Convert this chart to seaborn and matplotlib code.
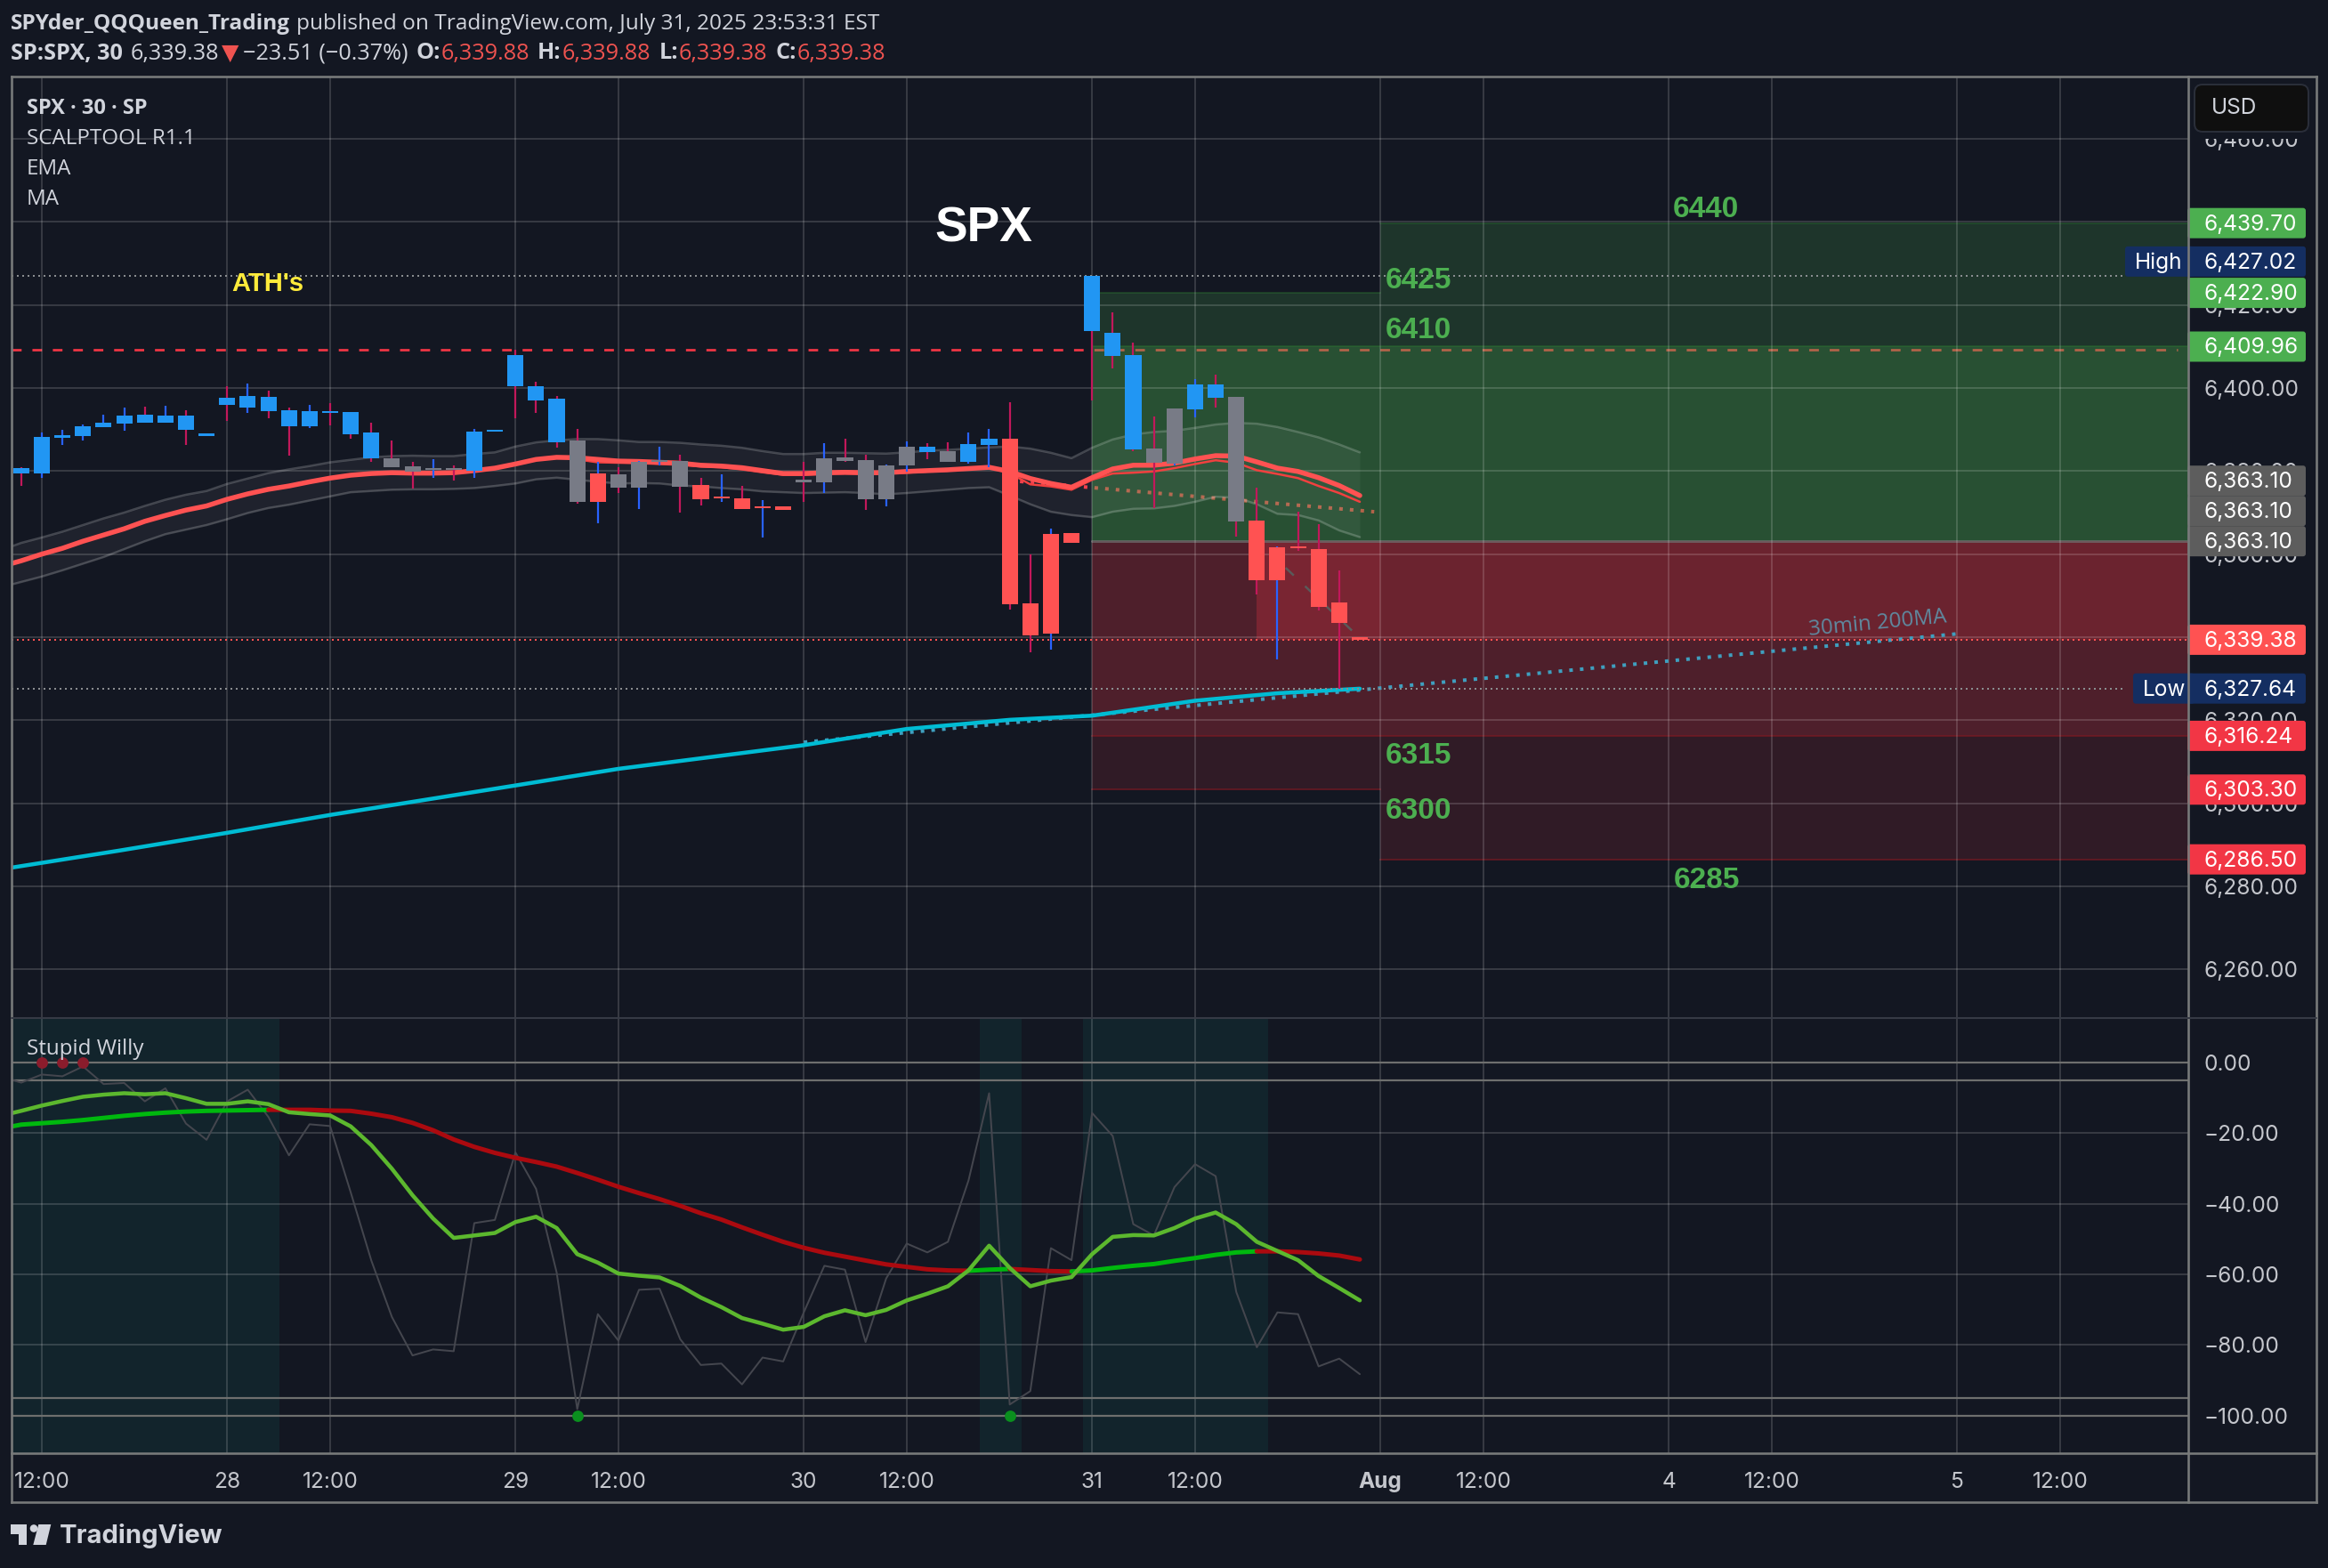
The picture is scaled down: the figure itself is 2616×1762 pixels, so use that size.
import numpy as np
import matplotlib
matplotlib.use('Agg')
import matplotlib.pyplot as plt
from matplotlib.patches import Rectangle, FancyBboxPatch, Polygon, Circle
from matplotlib.ticker import FuncFormatter, StrMethodFormatter
import seaborn as sns

W, H = 2616, 1762
BG = '#131722'

# candles, one per 30 min bar, bar -1 .. 64
opens = [6380.7, 6379.4, 6388.0, 6388.4, 6390.6, 6391.4, 6393.6, 6391.6, 6393.4, 6388.4, 6397.6, 6395.3, 6397.9, 6394.6,
         6390.8, 6394.4, 6394.2, 6389.3, 6383.1, 6381.1, 6380.3, 6380.7, 6380.1, 6389.5, 6407.9, 6400.4, 6397.4, 6387.4,
         6372.6, 6379.2, 6376.0, 6382.2, 6382.4, 6376.6, 6373.4, 6373.4, 6371.1, 6371.5, 6377.9, 6377.3, 6383.3, 6382.6,
         6373.2, 6381.4, 6385.9, 6384.8, 6382.2, 6386.3, 6387.8, 6348.1, 6340.9, 6365.1, 6427.0, 6413.3, 6407.9, 6385.4,
         6381.8, 6394.9, 6400.9, 6397.9, 6368.1, 6353.7, 6361.9, 6361.2, 6348.4, 6339.9]
highs = [6380.9, 6389.3, 6389.9, 6391.2, 6393.6, 6395.3, 6395.5, 6395.7, 6394.6, 6389.1, 6400.4, 6401.1, 6399.4, 6395.3,
         6395.9, 6396.4, 6394.2, 6391.6, 6387.4, 6382.2, 6382.9, 6381.4, 6390.1, 6389.9, 6409.2, 6401.5, 6398.1, 6390.1,
         6382.2, 6380.9, 6382.4, 6385.9, 6383.9, 6378.4, 6379.2, 6376.4, 6373.0, 6371.5, 6382.2, 6386.7, 6387.8, 6383.9,
         6381.6, 6387.1, 6386.7, 6386.9, 6389.3, 6390.1, 6396.6, 6359.9, 6366.1, 6365.1, 6427.0, 6418.2, 6410.9, 6393.1,
         6395.1, 6402.1, 6403.2, 6397.9, 6376.0, 6361.9, 6370.2, 6367.2, 6356.1, 6339.9]
lows = [6376.4, 6378.4, 6386.3, 6387.4, 6390.6, 6389.7, 6391.6, 6391.6, 6386.3, 6388.4, 6392.1, 6394.0, 6392.7, 6383.7,
        6390.4, 6391.0, 6387.8, 6382.2, 6380.9, 6375.8, 6378.4, 6377.7, 6378.4, 6389.5, 6392.7, 6394.0, 6385.6, 6372.1,
        6367.4, 6374.7, 6370.9, 6381.4, 6370.0, 6371.7, 6372.6, 6370.9, 6364.0, 6370.6, 6372.6, 6374.7, 6382.2, 6370.6,
        6371.5, 6379.9, 6382.9, 6382.2, 6381.8, 6380.9, 6346.6, 6336.4, 6337.0, 6362.7, 6397.0, 6404.7, 6384.8, 6371.1,
        6381.4, 6392.9, 6395.3, 6364.2, 6350.3, 6334.6, 6360.8, 6346.4, 6327.6, 6339.4]
closes = [6379.4, 6388.2, 6388.6, 6390.8, 6391.6, 6393.4, 6391.6, 6393.4, 6389.9, 6389.1, 6395.9, 6398.1, 6394.4, 6390.8,
          6394.4, 6394.0, 6388.9, 6383.1, 6380.9, 6379.9, 6380.7, 6380.3, 6389.5, 6389.9, 6400.4, 6397.0, 6386.9, 6372.6,
          6379.4, 6376.0, 6382.2, 6382.6, 6376.2, 6373.2, 6373.9, 6370.9, 6371.5, 6370.6, 6377.3, 6383.1, 6382.4, 6373.2,
          6381.4, 6385.9, 6384.6, 6382.2, 6386.5, 6387.8, 6347.9, 6340.4, 6364.9, 6362.7, 6413.7, 6407.7, 6385.2, 6382.0,
          6395.1, 6400.9, 6397.6, 6367.9, 6353.7, 6361.6, 6361.4, 6347.3, 6343.4, 6339.4]
body_kind = 'bbbbbbbbbbbbbbbbbb' + 'gggg' + 'bbbbb' + 'g' + 'r' + 'gggg' + 'rrrrr' + 'gggggg' + 'b' + 'g' + 'bb' + 'rrrr' + 'bbb' + 'gg' + 'bb' + 'g' + 'rrrrrr'

# overlays, bar -2 .. 64
ema = [6357.0, 6358.4, 6360.0, 6361.4, 6363.1, 6364.6, 6366.1, 6367.9, 6369.3, 6370.6, 6371.6, 6373.2, 6374.5, 6375.6,
       6376.4, 6377.4, 6378.3, 6379.0, 6379.4, 6379.6, 6379.5, 6379.5, 6379.6, 6380.1, 6380.7, 6381.7, 6382.8, 6383.3,
       6383.2, 6382.8, 6382.4, 6382.3, 6382.1, 6381.9, 6381.4, 6381.2, 6380.8, 6380.1, 6379.4, 6379.4, 6379.6, 6379.7,
       6379.6, 6379.6, 6379.9, 6380.1, 6380.3, 6380.6, 6380.9, 6379.9, 6378.2, 6377.0, 6376.1, 6378.4, 6380.5, 6381.4,
       6381.4, 6381.9, 6382.9, 6383.7, 6383.6, 6382.2, 6380.7, 6379.9, 6378.4, 6376.5, 6374.1]
band_up = [6360.9, 6362.7, 6364.0, 6365.4, 6367.0, 6368.6, 6370.0, 6371.6, 6373.1, 6374.3, 6375.2, 6376.9, 6378.2, 6379.5,
           6380.4, 6381.2, 6382.1, 6382.7, 6383.3, 6383.6, 6383.7, 6383.6, 6383.6, 6384.1, 6384.5, 6385.9, 6386.9, 6387.4,
           6387.7, 6387.7, 6387.4, 6387.0, 6387.0, 6386.8, 6386.4, 6386.1, 6385.6, 6384.8, 6384.1, 6384.1, 6384.4, 6384.4,
           6384.3, 6384.2, 6384.5, 6384.9, 6385.1, 6385.4, 6385.7, 6385.9, 6385.4, 6384.4, 6383.1, 6385.6, 6387.6, 6388.8,
           6389.4, 6389.7, 6390.4, 6391.2, 6391.6, 6391.4, 6390.6, 6389.4, 6388.1, 6386.4, 6384.5]
band_dn = [6352.0, 6353.3, 6354.6, 6356.1, 6357.7, 6359.3, 6361.2, 6363.1, 6364.8, 6365.9, 6367.0, 6368.4, 6369.9, 6371.1,
           6371.9, 6372.9, 6373.9, 6374.9, 6375.2, 6375.5, 6375.6, 6375.6, 6375.7, 6375.9, 6376.4, 6377.0, 6378.0, 6378.4,
           6377.9, 6377.4, 6377.0, 6377.1, 6377.0, 6376.5, 6376.3, 6375.9, 6375.6, 6375.1, 6374.9, 6374.7, 6374.8, 6374.9,
           6374.7, 6374.4, 6374.7, 6375.1, 6375.5, 6375.9, 6376.1, 6374.1, 6372.0, 6370.2, 6369.4, 6368.9, 6370.2, 6370.9,
           6371.0, 6371.6, 6372.6, 6373.8, 6373.6, 6372.0, 6369.7, 6369.4, 6368.1, 6365.7, 6364.1]
# thin MA only separates from the EMA from bar 26 on
ma_fast = [6382.8, 6382.1, 6382.0, 6381.9, 6381.7, 6381.5, 6381.1, 6380.9, 6380.4, 6379.7, 6379.1, 6379.1, 6379.3, 6379.4,
           6379.3, 6379.4, 6379.6, 6379.9, 6380.1, 6380.5, 6380.9, 6379.5, 6376.8, 6376.3, 6375.5, 6377.9, 6379.4, 6379.6,
           6379.9, 6380.7, 6381.7, 6382.6, 6382.0, 6380.2, 6379.3, 6378.3, 6376.4, 6374.7, 6372.6]
ma200_bars = [-2, 3.74, 9, 14, 23, 28, 37, 42, 47, 51, 56, 60, 64]
ma200 = [6284.1, 6288.6, 6292.9, 6297.2, 6304.3, 6308.3, 6314.0, 6317.9, 6320.1, 6321.1, 6324.7, 6326.5, 6327.6]
ma200_dot_bars = [37, 93]
ma200_dot = [6314.7, 6340.8]
trend_dot_bars = [47.5, 64.7]
trend_dot = [6377.5, 6370.2]
path_bars = [60.4, 64]
path_vals = [6356.7, 6339.8]
ath_level = 6409.3

# position boxes: bar from, bar to, price top, price bottom, alpha
green_boxes = [(65, 104.3, 6439.70, 6409.96, 0.20), (51, 65, 6422.90, 6409.96, 0.20), (51, 104.3, 6409.96, 6363.10, 0.38)]
red_boxes = [(65, 104.3, 6363.10, 6339.38, 0.395), (51, 59, 6363.10, 6339.38, 0.265), (59, 65, 6363.10, 6339.38, 0.46),
             (51, 104.3, 6339.38, 6316.24, 0.265), (51, 104.3, 6316.24, 6303.30, 0.135), (65, 104.3, 6303.30, 6286.50, 0.135)]

# stupid willy, bar -2 .. 64
willy = [-4.0, -5.7, -3.4, -3.9, -1.1, -6.1, -5.8, -11.0, -7.3, -17.3, -21.9, -11.0, -7.7, -15.4, -26.3, -17.5, -18.0,
         -36.8, -56.1, -72.1, -83.0, -81.3, -81.8, -45.5, -44.6, -25.5, -35.8, -59.5, -98.2, -71.3, -78.8, -64.4, -64.1,
         -78.4, -85.7, -85.3, -91.2, -83.6, -84.7, -70.8, -57.6, -58.7, -79.2, -61.2, -51.3, -53.8, -50.8, -33.4, -8.7,
         -96.9, -93.1, -52.6, -56.0, -14.3, -20.8, -45.8, -49.0, -35.3, -28.8, -32.2, -65.0, -80.7, -70.8, -71.3, -86.1,
         -83.9, -88.3]
willy_fast = [-15.1, -13.7, -12.2, -10.9, -9.7, -9.1, -8.7, -9.0, -8.7, -10.1, -11.7, -11.7, -11.0, -11.8, -14.1, -14.6,
              -15.0, -18.1, -23.4, -30.1, -37.6, -44.2, -49.7, -49.0, -48.3, -45.2, -43.7, -46.9, -54.3, -56.7, -59.8,
              -60.4, -60.9, -63.3, -66.6, -69.3, -72.4, -74.0, -75.7, -74.9, -71.9, -70.2, -71.6, -70.1, -67.4, -65.5,
              -63.4, -58.9, -51.9, -58.2, -63.4, -61.8, -60.8, -54.3, -49.4, -48.9, -49.0, -46.9, -44.2, -42.5, -45.8,
              -50.8, -53.4, -56.0, -60.5, -63.9, -67.4]
willy_slow = [-18.7, -17.6, -17.2, -16.8, -16.3, -15.7, -15.1, -14.6, -14.2, -13.9, -13.7, -13.6, -13.5, -13.4, -13.4,
              -13.4, -13.6, -13.7, -14.5, -15.5, -17.1, -19.2, -21.8, -23.9, -25.6, -27.0, -28.2, -29.5, -31.3, -33.2,
              -35.2, -37.0, -38.7, -40.6, -42.7, -44.5, -46.7, -48.8, -50.8, -52.5, -53.9, -55.0, -56.1, -57.2, -57.9,
              -58.6, -58.9, -59.0, -58.7, -58.5, -58.8, -59.1, -59.2, -58.9, -58.2, -57.6, -57.1, -56.2, -55.4, -54.5,
              -53.8, -53.5, -53.5, -53.7, -54.1, -54.7, -55.8]
slow_segments = [(-2, 11, '#00b80e'), (11, 45, '#ab0a0f'), (45, 47, '#00b80e'), (47, 50, '#ab0a0f'), (50, 59, '#00b80e'), (59, 64, '#ab0a0f')]
shade_spans = [(-1.6, 11.53), (45.55, 47.58), (50.57, 59.55)]
sell_dots = [0, 1, 2]
buy_dots = [26, 47]

# axis ticks
time_ticks = [0, 9, 14, 23, 28, 37, 42, 51, 56, 65, 70, 79, 84, 93, 98]
time_labels = ['12:00', '28', '12:00', '29', '12:00', '30', '12:00', '31', '12:00', 'Aug', '12:00', '4', '12:00', '5', '12:00']
price_ticks = [6260, 6280, 6300, 6320, 6340, 6360, 6380, 6400, 6420, 6440, 6460]
willy_ticks = [0, -20, -40, -60, -80, -100]
willy_levels = [0, -5, -95, -100]

# price tags: price, colour, pixel bump, side label
tag_prices = [6439.70, 6427.02, 6422.90, 6409.96, 6363.10, 6363.10, 6363.10, 6339.38, 6327.64, 6316.24, 6303.30, 6286.50]
tag_colors = ['#4caf50', '#142e61', '#4caf50', '#4caf50', '#5d5d5d', '#5d5d5d', '#5d5d5d', '#ff5252', '#142e61', '#f23645', '#f23645', '#f23645']
tag_bumps = [0, -16, 0, 0, -68, -34, 0, 0, 0, 0, 0, 0]

sns.set_theme(style='dark', rc={'axes.facecolor': BG, 'figure.facecolor': BG})
plt.rcParams['font.family'] = ['Inter', 'DejaVu Sans']
plt.rcParams['axes.unicode_minus'] = True


def px(n):
    return n * 0.72


fig = plt.figure(figsize=(W / 100, H / 100), dpi=100, facecolor=BG)
x_min, x_max = -1.482, 104.23
ax = fig.add_axes([12.7 / W, 1 - 1144 / H, (2459 - 12.7) / W, (1144 - 86.4) / H])
ax2 = fig.add_axes([12.7 / W, 1 - 1633 / H, (2459 - 12.7) / W, (1633 - 1144) / H])
for a in (ax, ax2):
    a.set_xlim(x_min, x_max)
    a.set_facecolor(BG)
    for s in a.spines.values():
        s.set_visible(False)
ax.set_ylim(6248.3, 6474.9)
ax2.set_ylim(-110.7, 12.6)

bars = np.arange(-1, 65)
line_bars = np.arange(-2, 65)

# lines that sit under the position boxes
ax.plot([x_min, 103.7], [ath_level, ath_level], color='#f23645', lw=px(2.7), ls=(0, (4, 4.5)), zorder=1)
ax.plot(trend_dot_bars, trend_dot, color='#f23645', lw=px(4), ls=(0, (1, 2)), zorder=1)

for b0, b1, top, bot, al in green_boxes:
    ax.add_patch(Rectangle((b0, bot), b1 - b0, top - bot, fc='#4caf50', ec='none', alpha=al, zorder=2))
    ax.plot([b0, b1], [top, top], color='#2e7d32', lw=px(2), alpha=0.35, zorder=2.1)
for b0, b1, top, bot, al in red_boxes:
    ax.add_patch(Rectangle((b0, bot), b1 - b0, top - bot, fc='#f23645', ec='none', alpha=al, zorder=2))
for b0, b1, lvl in [(51, 104.3, 6316.24), (51, 65, 6303.30), (65, 104.3, 6286.50)]:
    ax.plot([b0, b1], [lvl, lvl], color='#801922', lw=px(2), alpha=0.6, zorder=2.1)
ax.plot([51, 104.3], [6363.10, 6363.10], color='#707070', lw=px(3), alpha=0.7, zorder=2.2)

# grid
for t in time_ticks:
    ax.axvline(t, color='white', alpha=0.15, lw=px(2), zorder=3)
    ax2.axvline(t, color='white', alpha=0.15, lw=px(2), zorder=3)
for p in price_ticks:
    ax.axhline(p, color='white', alpha=0.15, lw=px(2), zorder=3)
for v in willy_ticks:
    if v not in willy_levels:
        ax2.axhline(v, color='white', alpha=0.15, lw=px(2), zorder=3)

# band and averages
ax.fill_between(line_bars, band_dn, band_up, color='white', alpha=0.05, lw=0, zorder=4)
sns.lineplot(x=line_bars, y=band_up, ax=ax, color='white', alpha=0.2, linewidth=px(2.5), zorder=4.1, legend=False)
sns.lineplot(x=line_bars, y=band_dn, ax=ax, color='white', alpha=0.2, linewidth=px(2.5), zorder=4.1, legend=False)
sns.lineplot(x=np.arange(26, 65), y=ma_fast, ax=ax, color='#f2403f', linewidth=px(2.5), zorder=5, legend=False)
sns.lineplot(x=line_bars, y=ema, ax=ax, color='#ff5252', linewidth=px(5.5), zorder=5.1, legend=False)
sns.lineplot(x=ma200_bars, y=ma200, ax=ax, color='#00bcd4', linewidth=px(4.5), zorder=5.2, legend=False)
ax.plot(ma200_dot_bars, ma200_dot, color='#3f9fbf', lw=px(4), ls=(0, (1, 2)), zorder=5)
ax.plot(path_bars, path_vals, color='#5a5a5a', lw=px(2.5), ls=(0, (5, 7)), zorder=5)

# levels
ax.plot([x_min, 101.1], [6427.02, 6427.02], color='#8a8d90', lw=px(2), ls=(0, (1, 2)), zorder=5.5)
ax.plot([x_min, x_max], [6339.38, 6339.38], color='#ff5252', lw=px(2), ls=(0, (1, 2)), zorder=5.5)
ax.plot([x_min, 101.1], [6327.64, 6327.64], color='#8a8d90', lw=px(2), ls=(0, (1, 2)), zorder=5.5)

# candles
wick_cols = ['#2962ff' if c >= o else '#c2185b' for o, c in zip(opens, closes)]
kind_cols = {'b': '#2196f3', 'r': '#ff5252', 'g': '#787b86'}
ax.vlines(bars, lows, highs, colors=wick_cols, lw=px(2.2), zorder=7)
body_low = np.minimum(opens, closes)
body_h = np.maximum(np.abs(np.array(opens) - np.array(closes)), 0.43)
ax.bar(bars, body_h, bottom=body_low, width=0.78, color=[kind_cols[k] for k in body_kind], lw=0, zorder=8)

# price scale
ax.yaxis.tick_right()
ax.set_yticks(price_ticks)
ax.yaxis.set_major_formatter(StrMethodFormatter('{x:,.2f}'))
ax.tick_params(axis='y', length=0, pad=12.7, labelsize=17.6, labelcolor='#c4c6cc')
ax.set_xticks([])

# willy pane
for b0, b1 in shade_spans:
    ax2.axvspan(b0, b1, color='#12242c', lw=0, zorder=1)
for v in willy_levels:
    ax2.axhline(v, color='#6e6f6e', lw=px(2.2), zorder=3.5)
sns.lineplot(x=line_bars, y=willy, ax=ax2, color='#44464e', linewidth=px(2), zorder=4, legend=False)
slow_arr = np.array(willy_slow)
for b0, b1, col in slow_segments:
    seg = (line_bars >= b0) & (line_bars <= b1)
    sns.lineplot(x=line_bars[seg], y=slow_arr[seg], ax=ax2, color=col, linewidth=px(5), zorder=5, legend=False)
sns.lineplot(x=line_bars, y=willy_fast, ax=ax2, color='#5cb82e', linewidth=px(4.5), zorder=6, legend=False)
sns.scatterplot(x=sell_dots, y=[0] * len(sell_dots), ax=ax2, color='#8b1c2c', s=85, linewidth=0, zorder=7, legend=False)
sns.scatterplot(x=buy_dots, y=[-100] * len(buy_dots), ax=ax2, color='#0a8f1e', s=85, linewidth=0, zorder=7, legend=False)

ax2.yaxis.tick_right()
ax2.set_yticks(willy_ticks)
ax2.yaxis.set_major_formatter(FuncFormatter(lambda v, pos: f'{v:.2f}'.replace('-', '\u2212')))
ax2.tick_params(axis='y', length=0, pad=12.7, labelsize=17.6, labelcolor='#c4c6cc')
ax2.set_xticks(time_ticks)
ax2.set_xticklabels(time_labels)
ax2.tick_params(axis='x', length=0, pad=15, labelsize=17.6, labelcolor='#c4c6cc')
for lab in ax2.get_xticklabels():
    if lab.get_text() == 'Aug':
        lab.set_fontweight('bold')
ax.set_xlabel('')
ax.set_ylabel('')
ax2.set_xlabel('')
ax2.set_ylabel('')

# overlay in figure pixels for frame, tags and text
ov = fig.add_axes([0, 0, 1, 1], zorder=10)
ov.set_xlim(0, W)
ov.set_ylim(H, 0)
ov.axis('off')
ov.patch.set_alpha(0)


def price_y(p):
    return 716 + (6340 - p) * 4.667


frame = '#787a7a'
for xs, ys in [([12.7, 2602.7], [86.4, 86.4]), ([12.7, 2602.7], [1632.7, 1632.7]), ([12.7, 2602.7], [1688, 1688]),
               ([12.7, 12.7], [86.4, 1688]), ([2459, 2459], [86.4, 1688]), ([2602.7, 2602.7], [86.4, 1688])]:
    ov.plot(xs, ys, color=frame, lw=px(2.6), solid_capstyle='projecting')
ov.plot([12.7, 2602.7], [1144, 1144], color='#363a45', lw=px(2))

# the currency button masks the top of the price scale
ov.add_patch(Rectangle((2461, 88), 140, 68, fc=BG, ec='none'))
ov.add_patch(FancyBboxPatch((2472, 101), 116, 41, boxstyle='round,pad=6,rounding_size=9', fc='#0f0f0f', ec='#2a2e39', lw=px(2)))
ov.text(2485, 122, 'USD', color='#d1d4dc', fontsize=17.6, va='center', ha='left')

for p, col, bump in zip(tag_prices, tag_colors, tag_bumps):
    yc = price_y(p) + bump
    ov.add_patch(FancyBboxPatch((2460, yc - 15), 129, 30, boxstyle='round,pad=2,rounding_size=3', fc=col, ec='none'))
    ov.text(2476.7, yc + 1.5, f'{p:,.2f}', color='white', fontsize=17.6, va='center', ha='left')
for label, p, bump, x0 in [('High', 6427.02, -16, 2388), ('Low', 6327.64, 0, 2397)]:
    yc = price_y(p) + bump
    ov.add_patch(FancyBboxPatch((x0 + 2, yc - 15), 2462 - x0, 30, boxstyle='round,pad=2,rounding_size=3', fc='#142e61', ec='none'))
    ov.text(x0 + 11, yc + 1.5, label, color='white', fontsize=17.6, va='center', ha='left')

renderer = fig.canvas.get_renderer()


def text_run(x, y, parts, size=17.6):
    for txt, col, weight, gap in parts:
        t = ov.text(x, y, txt, color=col, fontweight=weight, fontsize=size, va='center', ha='left',
                    family=['Open Sans', 'DejaVu Sans'])
        x = t.get_window_extent(renderer).x1 + gap


head = '#d1d4dc'
red = '#ef5350'
text_run(12, 27, [('SPYder_QQQueen_Trading', head, 'bold', 7),
                  ('published on TradingView.com, July 31, 2025 23:53:31 EST', head, 'normal', 0)])
text_run(12, 60, [('SP:SPX, 30', head, 'bold', 9), ('6,339.38', head, 'normal', 3), ('\u25bc', red, 'normal', 4),
                  ('\u221223.51 (\u22120.37%)', head, 'normal', 9), ('O:', head, 'bold', 1), ('6,339.88', red, 'normal', 9),
                  ('H:', head, 'bold', 1), ('6,339.88', red, 'normal', 9), ('L:', head, 'bold', 1), ('6,339.38', red, 'normal', 9),
                  ('C:', head, 'bold', 1), ('6,339.38', red, 'normal', 0)], size=18.2)
text_run(30, 122, [('SPX \u00b7 30 \u00b7 SP', head, 'bold', 0)], size=17)
text_run(30, 156, [('SCALPTOOL R1.1', head, 'normal', 0)], size=17.4)
text_run(30, 190, [('EMA', head, 'normal', 0)], size=17.4)
text_run(30, 224, [('MA', head, 'normal', 0)], size=17.4)
text_run(30, 1179, [('Stupid Willy', head, 'normal', 0)], size=17.4)

ov.text(1105, 258, 'SPX', color='white', fontsize=39.5, fontweight='bold', family='Liberation Sans', ha='center', va='center')
ov.text(301, 319, "ATH's", color='#ffeb3b', fontsize=21, fontweight='bold', family='Liberation Sans', ha='center', va='center')
for txt, xc, yc in [('6425', 1594, 315), ('6410', 1594, 372), ('6440', 1917, 235), ('6315', 1594, 849), ('6300', 1594, 912), ('6285', 1918, 989)]:
    ov.text(xc, yc, txt, color='#4caf50', fontsize=24, fontweight='bold', family='Liberation Sans', ha='center', va='center')
ov.text(2110, 701, '30min 200MA', color='#5f8aa0', fontsize=17.4, family='Open Sans', ha='center', va='center', rotation=5.4, rotation_mode='anchor')

# tradingview logo
logo = '#d1d4dc'
ov.add_patch(Polygon([(12.3, 1713), (30, 1713), (30, 1736), (21, 1736), (21, 1724), (12.3, 1724)], fc=logo, ec='none'))
ov.add_patch(Circle((38, 1717.5), 4.3, fc=logo, ec='none'))
ov.add_patch(Polygon([(43.3, 1713), (57.3, 1713), (51.7, 1736), (37.3, 1736)], fc=logo, ec='none'))
ov.text(67, 1726, 'TradingView', color=logo, fontsize=21, fontweight='bold', va='center', ha='left', family='Inter')

fig.savefig('out.png', dpi=100, facecolor=BG)
